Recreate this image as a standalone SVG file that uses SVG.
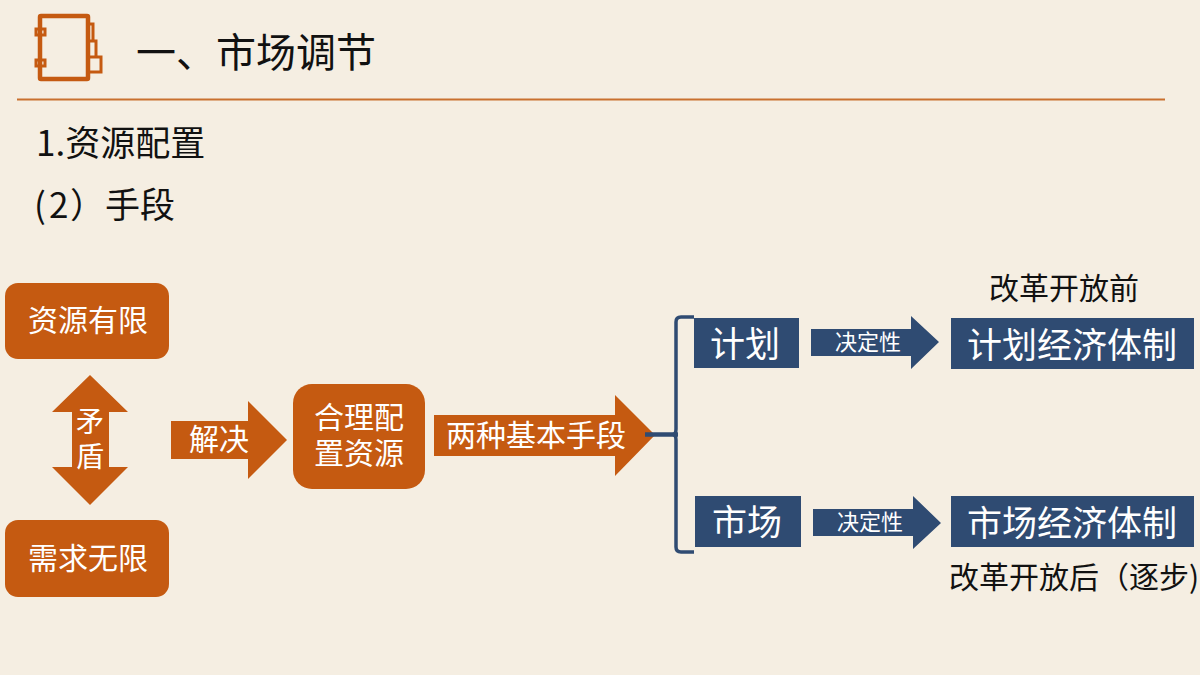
<svg xmlns="http://www.w3.org/2000/svg" width="1200" height="675" viewBox="0 0 1200 675">
<style>
text{font-family:"Noto Sans CJK SC","Liberation Sans",sans-serif}
.o{fill:#c55a11}.b{fill:#2f4b72}
.w{fill:#fff;text-anchor:middle}
.k{fill:#111}
.i{fill:none;stroke:#c55a11}
</style>
<rect width="1200" height="675" fill="#f5eee2"/>
<g id="title-icon" class="i">
<rect x="40" y="16" width="48" height="63" rx="1" stroke-width="4.500"/>
<rect x="36" y="29" width="9" height="6" stroke-width="3"/>
<rect x="36" y="60" width="9" height="6" stroke-width="3"/>
<path d="M89 24H93V41M89 41H96V57M89 57H101V72H89" stroke-width="3"/>
</g>
<text id="title" x="136" y="67" font-size="40" class="k">一、市场调节</text>
<path id="title-rule" d="M17 99.500H1165" stroke="#c9702e" stroke-width="2"/>
<text id="sub1" x="36" y="156" font-size="35" class="k">1.资源配置</text>
<text id="sub2" x="34" y="218" font-size="35" class="k">(<tspan x="49">2</tspan><tspan x="70">）</tspan><tspan x="105">手段</tspan></text>
<g id="node-limited"><rect class="o" x="5" y="283" width="164" height="76" rx="13"/><text class="w" x="88" y="331" font-size="30">资源有限</text></g>
<g id="node-demand"><rect class="o" x="5" y="520" width="164" height="77" rx="13"/><text class="w" x="88" y="569" font-size="30">需求无限</text></g>
<g id="node-conflict"><path class="o" d="M90 375L128 412H109V467H128L90 505L52 467H72V412H52Z"/><text class="w" font-size="28"><tspan x="90" y="432">矛</tspan><tspan x="90" y="467">盾</tspan></text></g>
<g id="node-solve"><path class="o" d="M171 421H248V401L287 440L248 479V459H171Z"/><text class="w" x="219" y="450" font-size="30">解决</text></g>
<g id="node-allocate"><rect class="o" x="293" y="384" width="132" height="105" rx="19"/><text class="w" font-size="30"><tspan x="359" y="428">合理配</tspan><tspan x="359" y="464">置资源</tspan></text></g>
<g id="node-two"><path class="o" d="M434 415H615V395L655 435L615 476V456H434Z"/><text class="w" x="536" y="446" font-size="30">两种基本手段</text></g>
<g id="node-plan"><rect class="b" x="694" y="318" width="105" height="50"/><text class="w" x="745" y="357" font-size="35">计划</text></g>
<g id="node-market"><rect class="b" x="695" y="496" width="106" height="51"/><text class="w" x="747" y="535" font-size="35">市场</text></g>
<g id="node-decide1"><path class="b" d="M811 329H911V316L939 342L911 369V356H811Z"/><text class="w" x="868" y="350" font-size="22">决定性</text></g>
<g id="node-decide2"><path class="b" d="M813 509H913V496L941 523L913 549V536H813Z"/><text class="w" x="870" y="530" font-size="22">决定性</text></g>
<g id="node-planeco"><rect class="b" x="951" y="318" width="243" height="51"/><text class="w" x="1072" y="358" font-size="35">计划经济体制</text></g>
<g id="node-marketeco"><rect class="b" x="951" y="496" width="243" height="51"/><text class="w" x="1072" y="536" font-size="35">市场经济体制</text></g>
<text id="before" x="989" y="299" font-size="30" class="k">改革开放前</text>
<text id="after" x="949" y="588" font-size="30" class="k">改革开放后（逐步)</text>
<g id="connectors">
<path d="M694 317H681Q676 317 676 322V429Q676 434 673 434.500Q676 435 676 440V547Q676 552 681 552H694" fill="none" stroke="#2f4b72" stroke-width="3.500"/>
<path d="M645 434.500H678" fill="none" stroke="#2f4b72" stroke-width="4.500"/>
</g>
</svg>
